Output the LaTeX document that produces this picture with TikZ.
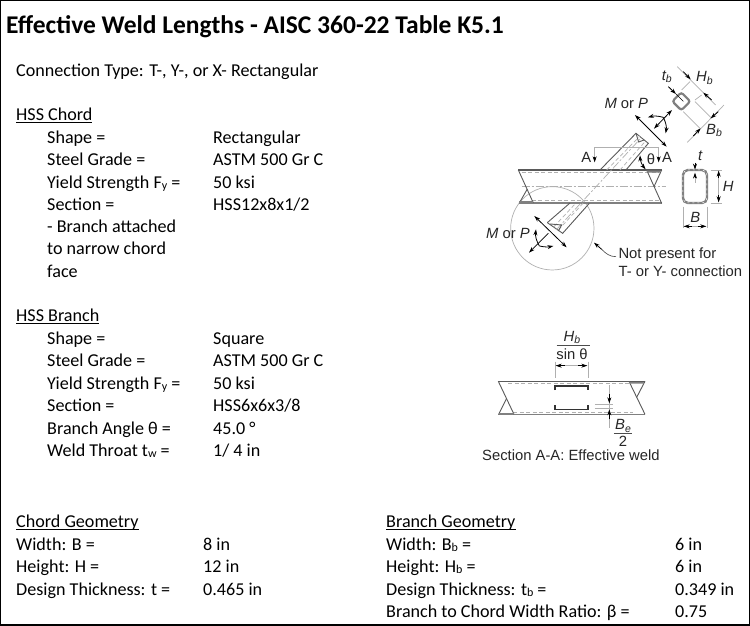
\documentclass[tikz,border=0pt]{standalone}
\usepackage{fontspec}
\setmainfont{Carlito}
\newfontfamily\dg{Liberation Sans}
\usetikzlibrary{arrows.meta}
\definecolor{mainline}{HTML}{5A5A5A}
\definecolor{dimline}{HTML}{B0B0B0}
\definecolor{hatchc}{HTML}{808080}
\newcommand{\sbs}[1]{\raisebox{-.2ex}{\fontsize{12}{13}\selectfont #1}}
\newcommand{\dsb}[1]{\raisebox{-.3ex}{\fontsize{10.5}{11}\selectfont #1}}
\tikzset{
  tl/.style={anchor=base west,inner sep=0pt,font=\fontsize{18.1}{22}\selectfont,text=black},
  dl/.style={inner sep=0pt,font=\dg\fontsize{14.8}{17}\selectfont,text=black!85},
  mainl/.style={draw=mainline,line width=.9pt},
  diml/.style={draw=dimline,line width=.7pt},
  thick line/.style={draw=hatchc,line width=1.4pt},
  dashl/.style={draw=dimline,line width=.7pt,dash pattern=on 4pt off 2.5pt},
  cdash/.style={draw=dimline,line width=.7pt,dash pattern=on 8pt off 2pt on 2pt off 2pt},
  arr/.style={draw=black,line width=.8pt,-{Stealth[length=6pt,width=4pt]}},
  arrb/.style={draw=black,line width=.8pt,{Stealth[length=6pt,width=4pt]}-{Stealth[length=6pt,width=4pt]}},
}
\begin{document}
\begin{tikzpicture}[x=1pt,y=-1pt]
\useasboundingbox (0,0) rectangle (750,625);
\fill[white] (0,0) rectangle (750,625);
\draw[black,line width=2pt] (0,0) rectangle (750,625);

% ---------- text
\node[anchor=base west,inner sep=0pt,font=\fontsize{25.5}{30}\selectfont\bfseries] (title) at (6,33) {Effective Weld Lengths - AISC 360-22 Table K5.1};
\node[tl] (ct) at (16,76) {Connection Type: T-, Y-, or X- Rectangular};

\node[tl] (h1) at (16,120) {HSS Chord};
\draw[black,line width=.7pt] (16,122.5) -- (92,122.5);
\node[tl] (a1) at (47,143) {Shape =};            \node[tl] (v1) at (213,143) {Rectangular};
\node[tl] (a2) at (47,165) {Steel Grade =};      \node[tl] (v2) at (213,165) {ASTM 500 Gr C};
\node[tl] (a3) at (47,188) {Yield Strength F\sbs{y} =};\node[tl] (v3) at (213,188) {50 ksi};
\node[tl] (a4) at (47,210) {Section =};          \node[tl] (v4) at (213,210) {HSS12x8x1/2};
\node[tl] (a5) at (47,232) {- Branch attached};
\node[tl] (a6) at (47,254) {to narrow chord};
\node[tl] (a7) at (47,277) {face};

\node[tl] (h2) at (16,321) {HSS Branch};
\draw[black,line width=.7pt] (16,323.5) -- (99,323.5);
\node[tl] (b1) at (47,344) {Shape =};            \node[tl] (w1) at (213,344) {Square};
\node[tl] (b2) at (47,366) {Steel Grade =};      \node[tl] (w2) at (213,366) {ASTM 500 Gr C};
\node[tl] (b3) at (47,389) {Yield Strength F\sbs{y} =};\node[tl] (w3) at (213,389) {50 ksi};
\node[tl] (b4) at (47,411) {Section =};          \node[tl] (w4) at (213,411) {HSS6x6x3/8};
\node[tl] (b5) at (47,434) {Branch Angle θ =};   \node[tl] (w5) at (213,434) {45.0 °};
\node[tl] (b6) at (47,456) {Weld Throat t\sbs{w} =};\node[tl] (w6) at (213,456) {1/ 4 in};

\node[tl] (h3) at (16,527) {Chord Geometry};
\draw[black,line width=.7pt] (16,529.5) -- (139,529.5);
\node[tl] (c1) at (16,550) {Width: B =};              \node[tl] (x1) at (203,550) {8 in};
\node[tl] (c2) at (16,572) {Height: H =};             \node[tl] (x2) at (203,572) {12 in};
\node[tl] (c3) at (16,595) {Design Thickness: t =};   \node[tl] (x3) at (203,595) {0.465 in};

\node[tl] (h4) at (386,527) {Branch Geometry};
\draw[black,line width=.7pt] (386,529.5) -- (516,529.5);
\node[tl] (d1) at (386,550) {Width: B\sbs{b} =};  \node[tl] (y1) at (675,550) {6 in};
\node[tl] (d2) at (386,572) {Height: H\sbs{b} =}; \node[tl] (y2) at (675,572) {6 in};
\node[tl] (d3) at (386,595) {Design Thickness: t\sbs{b} =}; \node[tl] (y3) at (675,595) {0.349 in};
\node[tl] (d4) at (386,617) {Branch to Chord Width Ratio: β =}; \node[tl] (y4) at (675,617) {0.75};

% ---------- upper figure, in zoom coordinates
\begin{scope}[shift={(470,30)},x=.3333pt,y=-.3333pt]
 % circle
 \draw[diml] (247,595) circle (125);
 % chord
 \draw[mainl,line width=1.1pt] (145,420) -- (575,420);
 \draw[thick line] (148,519) -- (575,519);
 \draw[dashl] (155,428) -- (565,428);
 \draw[dashl] (185,512) -- (570,512);
 \draw[cdash] (155,470) -- (588,470);
 \draw[mainl] (145,420) -- (190,519);
 \draw[mainl] (172,477) -- (148,519);
 \draw[mainl] (530,420) -- (575,520);
 \draw[mainl] (575,420) -- (552,470);
 \fill[hatchc] (148,513) -- (190,513) -- (190,519) -- (148,519) -- cycle;
 \fill[hatchc] (530,422) -- (572,422) -- (570,428) -- (533,428) -- cycle;
 % branch
 \draw[mainl] (390,420) -- (498,310) -- (535,340) -- (468,420);
 \draw[mainl] (232,578) -- (300,519);
 \draw[mainl] (358,520) -- (278,610) -- (232,578);
 \draw[dashl] (410,420) -- (510,318);
 \draw[dashl] (450,420) -- (525,335);
 \draw[dashl] (252,590) -- (318,519);
 \draw[dashl] (265,600) -- (340,519);
 \draw[cdash] (258,600) -- (515,322);
 \draw[mainl] (498,310) -- (506,336) -- (522,330);
 \draw[mainl] (240,582) -- (275,585) -- (265,603);
 % section A-A marks
 \draw[diml] (374,393) -- (374,352) -- (566,352) -- (566,393);
 \draw[arr] (374,380) -- (374,397);
 \draw[arr] (566,380) -- (566,397);
 \node[dl] (A1) at (349,381) {A};
 \node[dl] (A2) at (591,381) {A};
 \node[dl] (th) at (543,389) {θ};
 \draw[arrb] (510,376) to[bend right=18] (527,418);
 % upper load
 \draw[arrb] (495,255) -- (590,350);
 \draw[arrb] (552,296) -- (606,240);
 \draw[arr] (580,262) to[bend right=15] (534,262);
 \draw[arr] (580,262) to[bend left=18] (587,310);
 \node[dl,anchor=base west] (mp1) at (403,237) {\itshape M\upshape{} or \itshape P};
 % lower load
 \draw[arrb] (193,558) -- (290,652);
 \draw[arr] (235,610) -- (177,668);
 \draw[arr] (208,648) to[bend left=18] (198,598);
 \draw[arr] (208,648) to[bend right=12] (250,648);
 \node[dl,anchor=base west] (mp2) at (48,626) {\itshape M\upshape{} or \itshape P};
 % note
 \draw[draw=black!75,line width=.6pt] (438,680) to[out=180,in=-45] (395,658);
 \draw[arr] (395,658) -- (372,638);
 \node[dl,anchor=base west] (n1) at (445,687) {Not present for};
 \node[dl,anchor=base west] (n2) at (445,739) {T- or Y- connection};
 % branch section
 \begin{scope}[shift={(634,214)},rotate=45]
  \draw[draw=hatchc,line width=2.2pt,rounded corners=2.5pt] (-19,-19) rectangle (19,19);
 \end{scope}
 \draw[diml] (622,110) -- (737,225);
 \draw[diml] (660,155) -- (635,180);
 \draw[diml] (695,195) -- (675,210);
 \draw[arr] (640,125) -- (662,148);
 \draw[arr] (725,210) -- (700,188);
 \draw[diml] (762,225) -- (652,337);
 \draw[diml] (675,215) -- (725,265);
 \draw[diml] (640,245) -- (690,295);
 \draw[arr] (745,245) -- (722,265);
 \draw[arr] (670,318) -- (692,295);
 \draw[arr] (595,170) -- (618,192);
 \draw[draw=black,line width=.6pt] (618,192) -- (640,214);
 \node[dl,anchor=base west] (tb) at (575,150) {\itshape t\dsb{b}};
 \node[dl,anchor=base west] (hb) at (678,155) {\itshape H\dsb{b}};
 \node[dl,anchor=base west] (bb) at (708,313) {\itshape B\dsb{b}};
 % chord section
 \draw[draw=hatchc,line width=2.4pt,rounded corners=5pt] (639,420) rectangle (711,519);
 \draw[draw=white,line width=.5pt,dash pattern=on 2pt off 3pt,rounded corners=5pt] (639,420) rectangle (711,519);
 \draw[diml] (722,420) -- (757,420);
 \draw[diml] (722,519) -- (757,519);
 \draw[diml] (746,422) -- (746,517);
 \draw[arr] (746,445) -- (746,422);
 \draw[arr] (746,495) -- (746,517);
 \node[dl,anchor=base west] (Hl) at (758,486) {\itshape H};
 \draw[diml] (639,530) -- (639,595);
 \draw[diml] (711,530) -- (711,595);
 \draw[diml] (641,589) -- (709,589);
 \draw[arr] (665,589) -- (641,589);
 \draw[arr] (685,589) -- (709,589);
 \node[dl,anchor=base] (Bl) at (676,578) {\itshape B};
 \draw[arr] (675,398) -- (675,419);
 \draw[arr] (675,445) -- (675,428);
 \draw[diml] (675,445) -- (675,460);
 \node[dl,anchor=base west] (tl1) at (684,392) {\itshape t};
\end{scope}

% ---------- section A-A, in zoom coordinates
\begin{scope}[shift={(470,320)},x=.3333pt,y=-.3333pt]
 \draw[mainl,line width=1.1pt] (85,184) -- (525,184);
 \draw[thick line] (85,283) -- (525,283);
 \draw[dashl] (115,190) -- (480,190);
 \draw[dashl] (130,276) -- (490,276);
 \draw[mainl] (85,184) -- (132,283);
 \draw[mainl] (110,235) -- (86,283);
 \draw[mainl] (477,184) -- (525,283);
 \draw[mainl] (525,184) -- (500,232);
 \fill[hatchc] (86,278) -- (132,278) -- (132,283) -- (86,283) -- cycle;
 \fill[hatchc] (477,186) -- (522,186) -- (520,191) -- (480,191) -- cycle;
 \draw[black!80,line width=1.1pt] (255,210) -- (255,198) -- (354,198) -- (354,210);
 \draw[black!80,line width=1.1pt] (255,256) -- (255,268) -- (354,268) -- (354,256);
 \draw[diml] (255,125) -- (255,175);
 \draw[diml] (354,125) -- (354,175);
 \draw[diml] (257,137) -- (352,137);
 \draw[arr] (285,137) -- (257,137);
 \draw[arr] (325,137) -- (352,137);
 \draw[diml] (375,252) -- (430,252);
 \draw[diml] (375,266) -- (430,266);
 \draw[diml] (418,196) -- (418,325);
 \draw[arr] (418,222) -- (418,250);
 \draw[arr] (418,298) -- (418,268);
 \node[dl] (hbn) at (306,52) {\itshape H\dsb{b}};
 \draw[black!70,line width=.6pt] (260,75) -- (360,75);
 \node[dl] (sinn) at (306,104) {sin θ};
 \node[dl] (ben) at (459,318) {\itshape B\dsb{e}};
 \draw[black!70,line width=.6pt] (432,339) -- (486,339);
 \node[dl] (two) at (459,365) {2};
 \node[dl,anchor=base west] (sec) at (36,422) {Section A-A: Effective weld};
\end{scope}
\end{tikzpicture}
\end{document}
